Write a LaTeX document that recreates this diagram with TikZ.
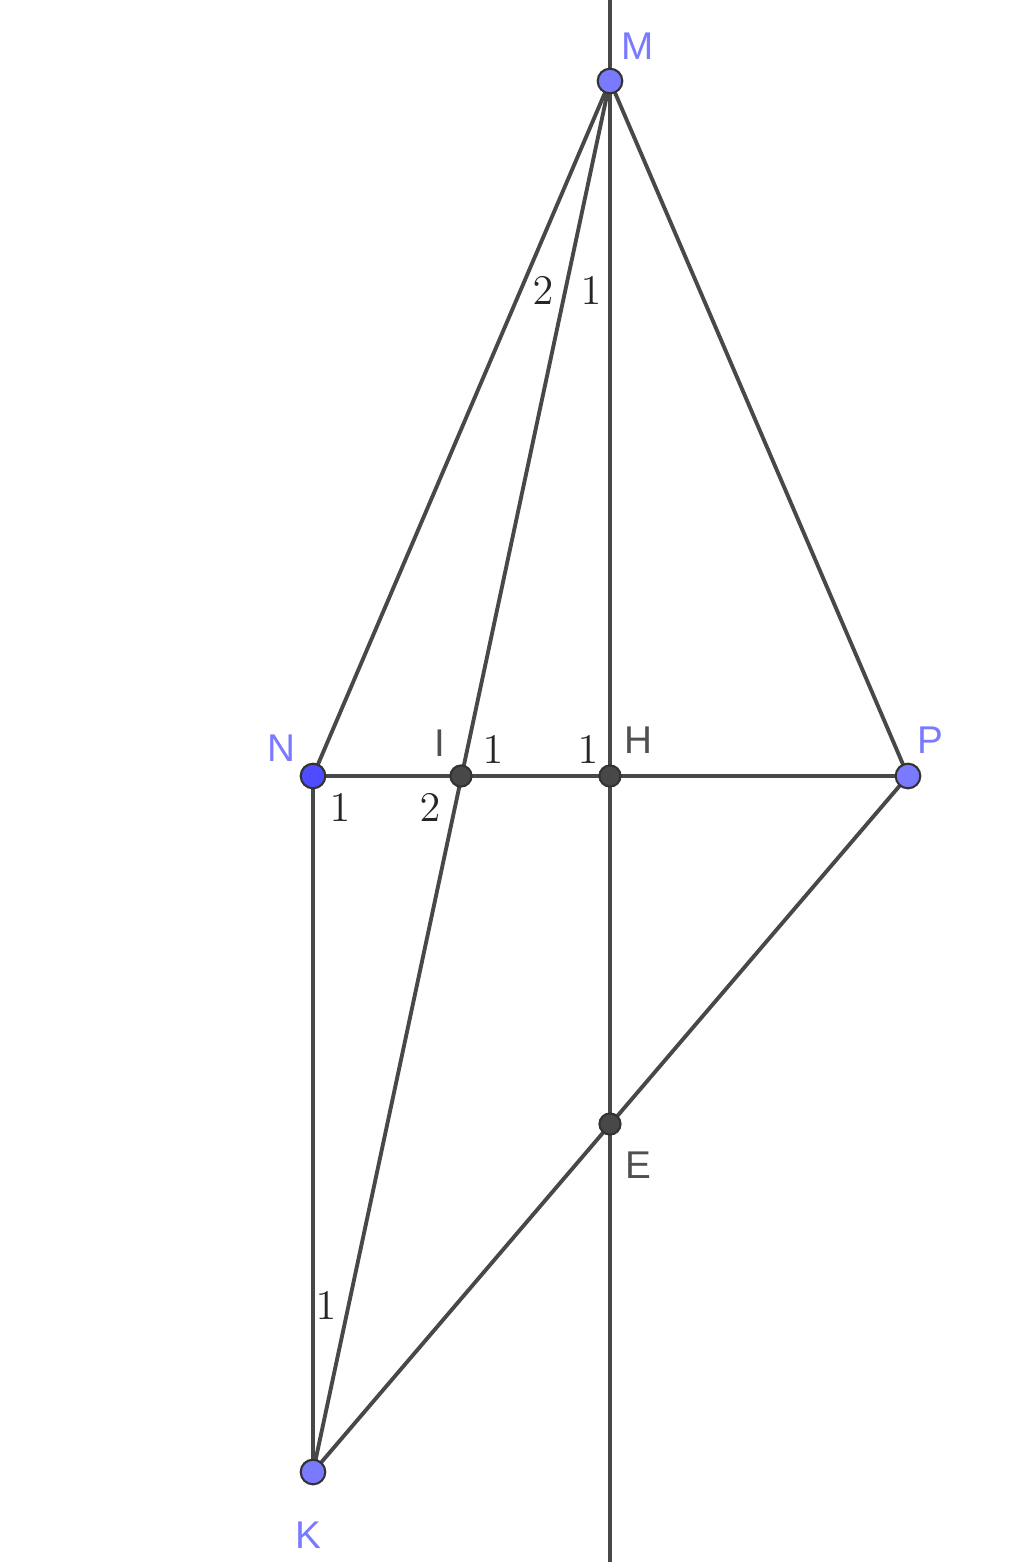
\documentclass[tikz,border=0pt]{standalone}
\usepackage{fontspec}
\setsansfont{Liberation Sans}
\usepackage{xcolor}
\usetikzlibrary{positioning}
\definecolor{ptblue}{RGB}{122,122,255}
\definecolor{ptdark}{RGB}{77,77,255}
\definecolor{lngray}{RGB}{72,72,72}
\definecolor{lblgray}{RGB}{80,80,80}
\tikzset{
	seg/.style={draw=lngray, line width=1.1pt},
	freept/.style={circle, fill=ptblue, draw=black!80, line width=0.6pt, inner sep=0pt, minimum size=7pt},
	fixpt/.style={circle, fill=lngray, draw=black!80, line width=0.6pt, inner sep=0pt, minimum size=6pt},
	ptlbl/.style={font=\sffamily\fontsize{11}{11}\selectfont, text=ptblue},
	auxlbl/.style={font=\sffamily\fontsize{11}{11}\selectfont, text=lblgray},
	anglbl/.style={font=\fontsize{12.5}{12.5}\selectfont, text=black!85}
}
\begin{document}
\begin{tikzpicture}[x=0.01cm, y=-0.01cm]
	\useasboundingbox (0,0) rectangle (1024,1562);
	% points of the figure
	\coordinate (M) at (610,81);
	\coordinate (N) at (313,776);
	\coordinate (I) at (461,776);
	\coordinate (H) at (610,776);
	\coordinate (P) at (908,776);
	\coordinate (E) at (610,1124);
	\coordinate (K) at (313,1472);
	\coordinate (top) at (610,0);
	\coordinate (bot) at (610,1562);
	% segments
	\draw[seg] (top) -- (bot);
	\draw[seg] (M) -- (N);
	\draw[seg] (M) -- (P);
	\draw[seg] (M) -- (K);
	\draw[seg] (N) -- (P);
	\draw[seg] (N) -- (K);
	\draw[seg] (P) -- (K);
	% dots
	\node[freept] (m) at (M) {};
	\node[freept, fill=ptdark] (n) at (N) {};
	\node[freept] (p) at (P) {};
	\node[freept] (k) at (K) {};
	\node[fixpt] (i) at (I) {};
	\node[fixpt] (h) at (H) {};
	\node[fixpt] (e) at (E) {};
	% names
	\node[ptlbl] (lm) at (638,46) {M};
	\node[ptlbl] (ln) at (281,748) {N};
	\node[ptlbl] (lp) at (930,740) {P};
	\node[ptlbl] (lk) at (308,1535) {K};
	\node[auxlbl] (li) at (440,743) {I};
	\node[auxlbl] (lh) at (638,740) {H};
	\node[auxlbl] (le) at (638,1165) {E};
	% angle marks
	\node[anglbl] (a1) at (543,291) {$2$};
	\node[anglbl] (a2) at (591,291) {$1$};
	\node[anglbl] (a3) at (493,750) {$1$};
	\node[anglbl] (a4) at (588,750) {$1$};
	\node[anglbl] (a5) at (340,808) {$1$};
	\node[anglbl] (a6) at (430,808) {$2$};
	\node[anglbl] (a7) at (326,1306) {$1$};
\end{tikzpicture}
\end{document}
